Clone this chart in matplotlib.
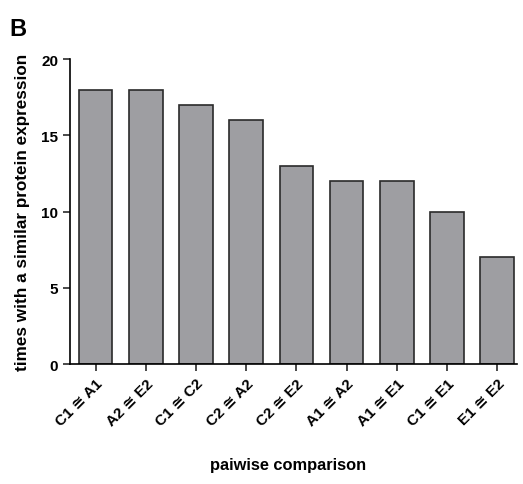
import matplotlib.pyplot as plt

plt.rcParams['font.family'] = ['Liberation Sans', 'DejaVu Sans']

# data
pairs = ["C1 \u2245 A1", "A2 \u2245 E2", "C1 \u2245 C2", "C2 \u2245 A2", "C2 \u2245 E2",
         "A1 \u2245 A2", "A1 \u2245 E1", "C1 \u2245 E1", "E1 \u2245 E2"]
times = [18, 18, 17, 16, 13, 12, 12, 10, 7]
y_ticks = [0, 5, 10, 15, 20]

fig = plt.figure(figsize=(5.23, 4.85), dpi=100)
ax = fig.add_axes([0.134, 0.247, 0.855, 0.629])

x = range(len(pairs))
ax.bar(x, times, width=0.67, color="#9e9ea2", edgecolor="#2a2a2a", linewidth=1.2)

ax.set_xlim(-0.51, 8.4)
ax.set_ylim(0, 20)
ax.set_yticks(y_ticks)
ax.set_xticks(list(x))
ax.set_xticklabels(pairs, rotation=45, ha="right", rotation_mode="anchor",
                   fontsize=11, fontweight="bold")
for lab in ax.get_yticklabels():
    lab.set_fontweight("bold")
    lab.set_fontsize(11)

ax.spines["top"].set_visible(False)
ax.spines["right"].set_visible(False)
ax.spines["left"].set_linewidth(1.2)
ax.spines["bottom"].set_linewidth(1.2)
ax.tick_params(axis="both", direction="out", length=5, width=1.2, color="#2a2a2a")

ax.set_ylabel("times with a similar protein expression", fontsize=12.3, fontweight="bold", labelpad=8)
fig.text(0.55, 0.03, "paiwise comparison", ha="center", fontsize=11.8, fontweight="bold")
fig.text(0.018, 0.925, "B", fontsize=17, fontweight="bold")

fig.savefig("out.png", dpi=100)
